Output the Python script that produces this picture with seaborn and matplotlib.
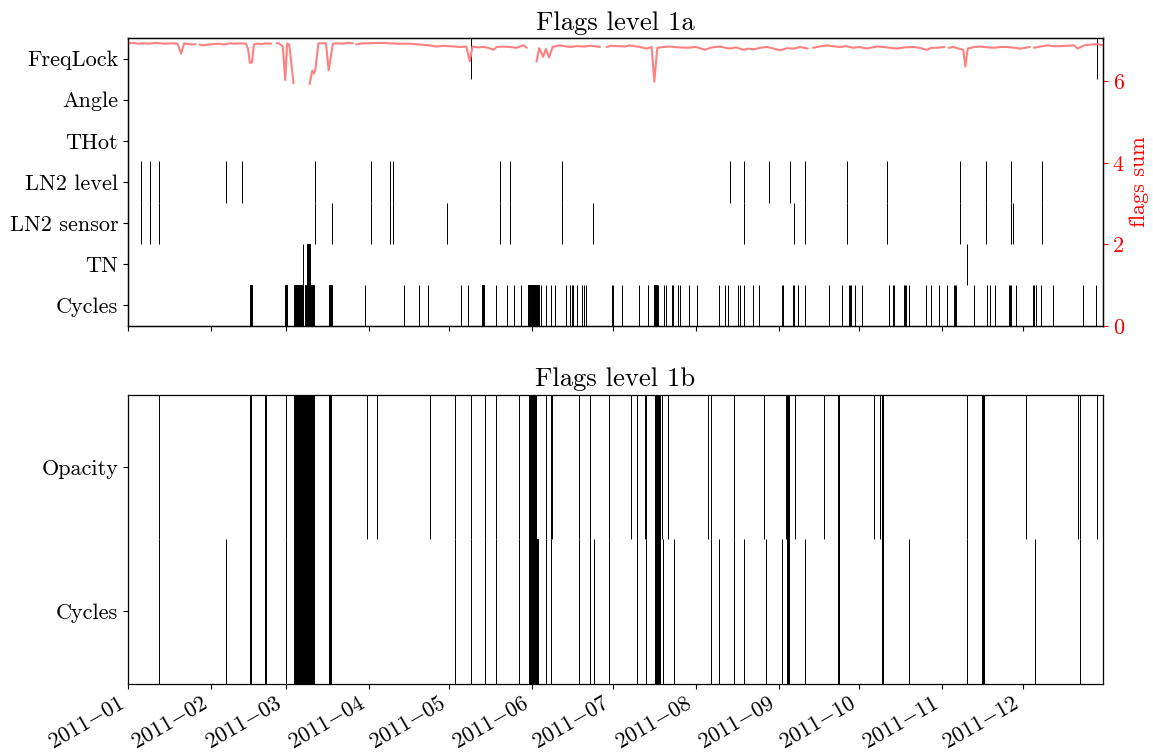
import numpy as np
import pandas as pd
import matplotlib
matplotlib.use("Agg")
import matplotlib.pyplot as plt
import matplotlib.dates as mdates
from matplotlib.ticker import FuncFormatter
import seaborn as sns

# ---------------- data (days since 2011-01-01) ----------------
START = "2011-01-01"
END_DAY = 364

categories_1a = ["FreqLock", "Angle", "THot", "LN2 level", "LN2 sensor", "TN", "Cycles"]
freqlock_1a = [128.0, 361.7]
angle_1a = []
thot_1a = []
ln2_level_1a = [5.0, 8.3, 11.7, 36.6, 42.5, 69.9, 90.8, 97.7, 98.9, 138.8, 142.7, 162.1,
                224.8, 229.8, 239.4, 247.3, 252.6, 268.6, 283.2, 310.5, 320.2, 329.6, 341.2]
ln2_sensor_1a = [5.0, 8.3, 11.7, 69.9, 76.2, 90.8, 97.7, 98.9, 119.1, 138.8, 142.7, 162.1,
                 173.7, 229.8, 248.8, 252.6, 268.6, 283.2, 310.5, 320.2, 329.6, 330.5, 341.2]
tn_1a = [65.3, (66.8, 68.0), 313.4]
cycles_1a = [(45.5, 46.2), (58.7, 59.2), (61.8, 65.2), (65.9, 66.3), (67.0, 67.9), (68.4, 69.4),
             (75.0, 76.0), 88.6, 102.9, 108.6, 112.0, 124.5, 127.1, (132.3, 132.9), 137.2, 141.5,
             144.1, 146.9, (149.4, 153.4), 154.1, 155.9, 157.8, 159.4, 163.7, 165.0, 165.6, 166.2,
             167.5, 169.6, 170.2, 171.0, 180.6, 181.2, 184.3, 190.8, 194.2, (196.5, 197.4), 198.0,
             200.1, 200.7, 203.0, 203.6, 205.5, 206.1, 209.5, 212.3, 220.7, 222.9, 223.9, 227.7,
             228.3, 229.8, 233.5, 235.4, 244.0, 244.5, 248.1, 248.5, 250.3, 252.8, 261.7, 266.5,
             269.2, 269.6, 269.9, 271.5, 274.0, 284.0, 285.5, 286.1, 289.6, 290.0, 290.5, 291.4,
             297.9, 299.6, 302.8, 305.7, 308.3, 308.8, 309.2, 315.9, 320.6, 321.7, 323.5, 328.8,
             329.2, 329.6, 331.6, 337.8, 338.2, 338.8, 340.9, 345.3, 356.4, 361.5]

categories_1b = ["Opacity", "Cycles"]
both_1b = [11.7, (45.4, 46.0), (51.0, 51.4), 58.8, (61.8, 69.6), (75.2, 75.8), 121.9, 127.9,
           133.3, 137.2, 146.0, (149.8, 152.5), 155.9, 157.9, 168.2, 172.3, 179.7, 190.1, 193.4,
           (196.7, 198.6), 217.7, 226.2, (246.0, 246.6), (264.9, 265.5), (281.5, 282.0), 313.4,
           (318.9, 319.5), 355.3, 364.0]
opacity_only_1b = [89.2, 92.9, 112.7, 158.4, 187.8, 193.0, 199.3, 201.7, 216.7, 237.6, 245.6,
                   249.1, 259.7, 278.6, 280.6, 335.4, 354.8, 361.9]
cycles_only_1b = [36.6, (152.5, 153.1), 173.8, 199.7, 204.0, 220.7, 229.8, 238.1, 244.0, 252.6,
                  291.7, 338.7]
opacity_1b = both_1b + opacity_only_1b
cycles_1b = both_1b + cycles_only_1b

# flags sum (None = gap in the record)
sum_days = [0, 2, 4, 6, 8, 10, 12, 14, 16, 18.5, 19.8, 21, 22.5, 24, 25.2, None,
            26.7, 28, 30, 32, 34, 36, 38, 40, 42, 44, 44.8, 45.5, 46.3, 47, 48, 50, 51.5, 53.4, None,
            55.5, 56.5, 57.8, 58.7, 59.4, 60.2, 61.8, None,
            67.8, 68.8, 69.4, 69.9, 71.1, 72.7, 73.9, 74.9, 76.5, 78, 80, 82, 84, None,
            85.2, 86.5, 88, 90.2, 94, 97.6, 101, 105.1, 109, 112.6, 115.1, 117.5, 120.1, 123.8,
            126.3, 127.6, 128.6, 130.5, 132.6, 134.5, 136.5, 137.6, 140, 142.6, 145.1, 147.6, 148.8, None,
            152.5, 153.5, 155, 156, 157.2, 158.5, 161.2, 163, 165, 167.5, 170, 173, 176.2, None,
            178.7, 180.5, 182.4, 183.7, 185.5, 187.4, 189, 191.1, 193.6, 195.5, 196.5, 197.6, 200,
            202.4, 205.5, 208.6, 212, 215.5, 217.4, 219, 221.1, 223, 224.8, 227, 229.8, 231.5,
            233.6, 236, 238.5, 241, 243.5, 246, 248.5, 251, 253.8, None,
            255.7, 258, 260.9, 263, 265.9, 268, 270.9, 273, 275.9, 277.1, 279.5, 282, 284.5, 287,
            290, 293.2, 295.5, 298.2, 300, 302, 304.8, None,
            306.4, 308, 310.2, 311.8, 312.6, 313.5, 316, 318.3, 321, 323.3, 326, 328.2, 331, 333.2, 336.7, None,
            338.2, 340.5, 343.2, 345.5, 348.2, 350.5, 353.2, 354.5, 357, 359.5, 362, 363.9]
sum_vals = [6.93, 6.94, 6.92, 6.93, 6.92, 6.94, 6.93, 6.92, 6.93, 6.92, 6.68, 6.93, 6.91, 6.90, 6.91, None,
            6.90, 6.88, 6.90, 6.91, 6.92, 6.90, 6.93, 6.92, 6.93, 6.92, 6.80, 6.45, 6.46, 6.90, 6.92, 6.91, 6.93, 6.92, None,
            6.93, 6.92, 6.85, 6.03, 6.92, 6.90, 5.95, None,
            5.93, 6.26, 6.19, 6.27, 6.93, 6.93, 6.93, 6.27, 6.92, 6.93, 6.92, 6.94, 6.93, None,
            6.90, 6.92, 6.93, 6.93, 6.94, 6.93, 6.92, 6.92, 6.90, 6.88, 6.85, 6.87, 6.86, 6.84,
            6.85, 6.49, 6.85, 6.83, 6.84, 6.82, 6.77, 6.84, 6.85, 6.84, 6.82, 6.88, 6.82, None,
            6.48, 6.81, 6.60, 6.79, 6.58, 6.84, 6.88, 6.86, 6.84, 6.86, 6.85, 6.87, 6.84, None,
            6.84, 6.87, 6.86, 6.86, 6.85, 6.88, 6.86, 6.84, 6.80, 6.84, 5.99, 6.82, 6.84,
            6.85, 6.83, 6.82, 6.84, 6.77, 6.82, 6.84, 6.85, 6.82, 6.80, 6.83, 6.77, 6.80,
            6.78, 6.82, 6.84, 6.80, 6.76, 6.81, 6.80, 6.84, 6.80, None,
            6.82, 6.85, 6.88, 6.86, 6.84, 6.86, 6.82, 6.84, 6.80, 6.82, 6.85, 6.84, 6.82, 6.80,
            6.83, 6.84, 6.82, 6.77, 6.82, 6.82, 6.84, None,
            6.82, 6.84, 6.80, 6.77, 6.36, 6.80, 6.84, 6.85, 6.83, 6.82, 6.84, 6.84, 6.82, 6.80, 6.84, None,
            6.82, 6.85, 6.88, 6.86, 6.86, 6.87, 6.88, 6.80, 6.88, 6.90, 6.91, 6.88]

# ---------------- style ----------------
sns.set_style("ticks")
plt.rcParams.update({
    "font.family": ["cmr10", "DejaVu Serif"],
    "mathtext.fontset": "cm",
    "axes.formatter.use_mathtext": True,
    "font.size": 16,
    "text.color": "black",
    "axes.labelcolor": "black",
    "axes.edgecolor": "black",
    "xtick.color": "black",
    "ytick.color": "black",
    "axes.linewidth": 0.9,
})
FS = 16

base = mdates.date2num(np.datetime64(START))

fig = plt.figure(figsize=(11.53, 7.53), dpi=100)
ax1 = fig.add_axes([128 / 1153, 1 - 326 / 753, 975 / 1153, 288 / 753])
ax2 = fig.add_axes([128 / 1153, 1 - 683.5 / 753, 975 / 1153, 289 / 753], sharex=ax1)
ax1.xaxis_date()


def draw_flags(ax, flag_lists):
    for i, items in enumerate(flag_lists):
        spans = []
        for it in items:
            if isinstance(it, tuple):
                s, e = it
            else:
                s, e = it, it
            spans.append((base + s, e - s))
        if spans:
            ax.broken_barh(spans, (i - 0.5, 1.0), facecolors="black",
                           edgecolors="black", linewidth=0.7)


draw_flags(ax1, [freqlock_1a, angle_1a, thot_1a, ln2_level_1a, ln2_sensor_1a, tn_1a, cycles_1a])
draw_flags(ax2, [opacity_1b, cycles_1b])

# flags sum on twin axis
seg, s = [], 0
for d in sum_days:
    if d is None:
        s += 1
    seg.append(s)
df = pd.DataFrame({"day": sum_days, "val": sum_vals, "seg": seg}).dropna()
df["date"] = pd.Timestamp(START) + pd.to_timedelta(df["day"].astype(float), unit="D")

ax1r = ax1.twinx()
ax1r.set_position(ax1.get_position())
sns.lineplot(data=df, x="date", y="val", units="seg", estimator=None,
             color="#ff8080", linewidth=1.5, ax=ax1r)
ax1r.set_ylim(0, 7.06)
ax1r.set_yticks([0, 2, 4, 6])
ax1r.set_yticklabels(["0", "2", "4", "6"], fontsize=FS)
ax1r.set_xlabel("")
ax1r.set_ylabel("flags sum", color="red", fontsize=FS)
ax1r.tick_params(axis="y", colors="red", labelsize=FS)
ax1r.spines["right"].set_color("black")

# categorical y axes
ax1.set_ylim(len(categories_1a) - 0.5, -0.5)
ax1.set_yticks(range(len(categories_1a)))
ax1.set_yticklabels(categories_1a, fontsize=FS)
ax1.set_title("Flags level 1a", fontsize=1.2 * FS, color="black")

ax2.set_ylim(len(categories_1b) - 0.5, -0.5)
ax2.set_yticks(range(len(categories_1b)))
ax2.set_yticklabels(categories_1b, fontsize=FS)
ax2.set_title("Flags level 1b", fontsize=1.2 * FS, color="black")

# x axis
ax2.set_xlim(base, base + END_DAY)
ax2.xaxis.set_major_locator(mdates.MonthLocator())
ax2.xaxis.set_major_formatter(FuncFormatter(
    lambda x, pos: r"$\mathdefault{%s}$" % mdates.num2date(x).strftime("%Y-%m").replace("-", "{-}")))
ax1.tick_params(axis="x", labelbottom=False)
ax2.tick_params(axis="x", labelsize=FS, labelrotation=30)
for lab in ax2.get_xticklabels():
    lab.set_ha("right")
    lab.set_rotation_mode("default")
ax1.tick_params(axis="y", labelsize=FS)
ax2.tick_params(axis="y", labelsize=FS)
ax1.set_xlabel("")
ax2.set_xlabel("")

fig.savefig("out.png", dpi=100)
